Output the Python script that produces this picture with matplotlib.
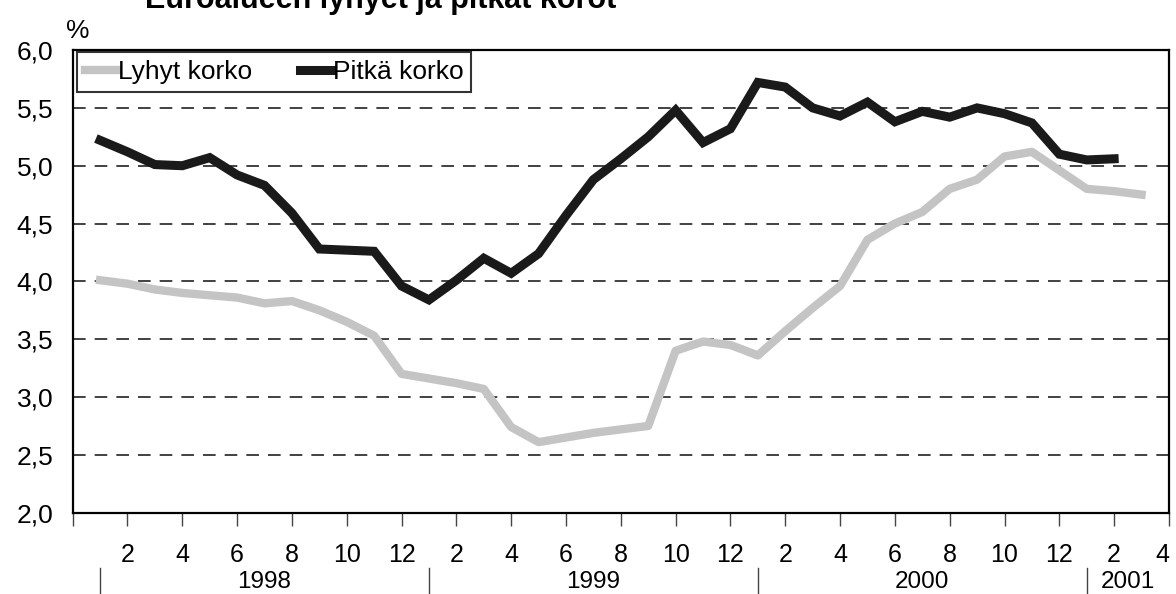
import matplotlib
matplotlib.use("Agg")
from matplotlib import pyplot as plt

plt.rcParams['font.family'] = ['Liberation Sans', 'DejaVu Sans']

# kuukausi-indeksi: 1 = tammikuu 1998
lyhyt_kk = list(range(1, 40))
lyhyt = [4.01, 3.98, 3.93, 3.90, 3.88, 3.86, 3.81, 3.83, 3.75, 3.65, 3.53, 3.20,
         3.16, 3.12, 3.07, 2.74, 2.61, 2.65, 2.69, 2.72, 2.75, 3.40, 3.48, 3.45,
         3.36, 3.57, 3.77, 3.96, 4.36, 4.50, 4.60, 4.80, 4.88, 5.08, 5.12, 4.96,
         4.80, 4.78, 4.75]

pitka_kk = list(range(1, 39))
pitka = [5.22, 5.12, 5.01, 5.00, 5.07, 4.92, 4.83, 4.59, 4.28, 4.27, 4.26, 3.96,
         3.84, 4.01, 4.20, 4.07, 4.24, 4.57, 4.88, 5.06, 5.25, 5.48, 5.20, 5.32,
         5.72, 5.68, 5.50, 5.43, 5.55, 5.38, 5.47, 5.42, 5.50, 5.45, 5.37, 5.10,
         5.05, 5.06]

tikit = list(range(0, 41, 2))
tikki_nimet = ['', '2', '4', '6', '8', '10', '12', '2', '4', '6', '8', '10', '12',
               '2', '4', '6', '8', '10', '12', '2', '4']
vuodet = ['1998', '1999', '2000', '2001']
vuosi_kesket = [7, 19, 31, 38.5]
vuosi_rajat = [1, 13, 25, 37]
y_tikit = [2.0, 2.5, 3.0, 3.5, 4.0, 4.5, 5.0, 5.5, 6.0]

fig = plt.figure(figsize=(11.76, 5.94), dpi=100)
ax = fig.add_axes([0.0618, 0.1369, 0.9322, 0.7788])

for y in y_tikit[1:-1]:
    ax.axhline(y, color='#333333', lw=1.3, ls=(0, (7, 5)), zorder=1)

l1, = ax.plot(lyhyt_kk, lyhyt, color='#c4c4c4', lw=6, solid_joinstyle='round', zorder=3)
l2, = ax.plot(pitka_kk, pitka, color='#1a1a1a', lw=6.5, solid_joinstyle='miter', zorder=4)

ax.set_xlim(0, 40)
ax.set_ylim(2.0, 6.0)
ax.set_yticks(y_tikit)
ax.set_yticklabels([('%.1f' % v).replace('.', ',') for v in y_tikit], fontsize=19)
ax.tick_params(axis='y', length=0, pad=14)
ax.set_xticks(tikit)
ax.set_xticklabels(tikki_nimet, fontsize=18)
ax.tick_params(axis='x', direction='out', length=9, width=1, color='#444444', pad=13)
ax.get_xticklabels()[-1].set_ha('right')

for s in ax.spines.values():
    s.set_linewidth(1.6)
    s.set_color('black')

trans = ax.get_xaxis_transform()
for r in vuosi_rajat:
    ax.plot([r, r], [-0.12, -0.18], color='#444444', lw=1, transform=trans, clip_on=False)
for v, x in zip(vuodet, vuosi_kesket):
    ax.text(x, -0.149, v, transform=trans, ha='center', va='center', fontsize=17.5)

leg = ax.legend([l1, l2], ['Lyhyt korko', 'Pitkä korko'], loc='upper left',
                bbox_to_anchor=(0.004, 0.995), ncol=2, fontsize=19, frameon=True,
                fancybox=False, edgecolor='black', handlelength=1.2, handletextpad=0.05,
                columnspacing=1.8, borderpad=0.3, borderaxespad=0.0)
leg.get_frame().set_linewidth(1.5)

fig.text(0.066, 0.948, '%', fontsize=19, ha='center', va='center')
fig.text(0.123, 0.986, 'Euroalueen lyhyet ja pitkät korot', fontsize=22,
         fontweight='bold', ha='left', va='baseline')

fig.savefig('out.png', dpi=100)
